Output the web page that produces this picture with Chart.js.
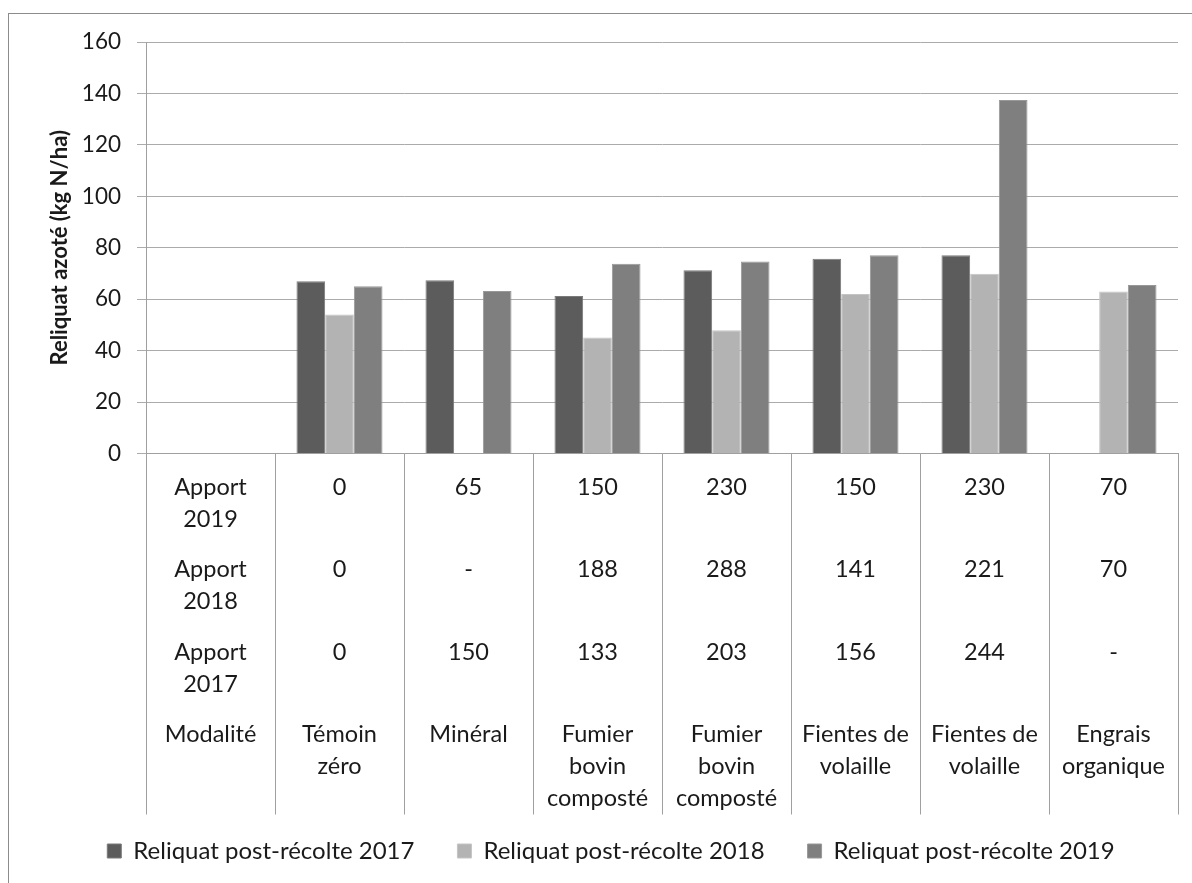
<!DOCTYPE html>
<html>
<head>
<meta charset="utf-8">
<script src="https://cdn.jsdelivr.net/npm/chart.js@4"></script>
<style>
  html, body { margin: 0; padding: 0; background: #fff; }
  #wrap { position: relative; width: 1192px; height: 883px; }
</style>
</head>
<body>
<div id="wrap"><canvas id="reliquats" width="1192" height="883"></canvas></div>
<script>
// ---- data ----
// first column is the row-header column of the table, it has no bars
const modalites = ['Modalité', 'Témoin\nzéro', 'Minéral', 'Fumier\nbovin\ncomposté', 'Fumier\nbovin\ncomposté',
  'Fientes de\nvolaille', 'Fientes de\nvolaille', 'Engrais\norganique'];

const reliquat2017 = [null, 67, 67.4, 61.2, 71.3, 75.7, 77.1, null];
const reliquat2018 = [null, 54, null, 45.1, 47.9, 62, 69.9, 63];
const reliquat2019 = [null, 65, 63.2, 73.8, 74.7, 77.1, 137.4, 65.5];

const seriesNames = ['Reliquat post-récolte 2017', 'Reliquat post-récolte 2018', 'Reliquat post-récolte 2019'];

// nitrogen inputs shown in the table under the axis (kg N/ha)
const rowHeaders = ['Apport\n2019', 'Apport\n2018', 'Apport\n2017'];
const apport2019 = ['0', '65', '150', '230', '150', '230', '70'];
const apport2018 = ['0', '-', '188', '288', '141', '221', '70'];
const apport2017 = ['0', '150', '133', '203', '156', '244', '-'];

const yTicks = [0, 20, 40, 60, 80, 100, 120, 140, 160];

const FONT = 'Lato, "Noto Sans", sans-serif';
const TEXT = '#1a1a1a';

// ---- table under the x axis + outer frame ----
const tablePlugin = {
  id: 'dataTable',
  beforeDraw(chart) {
    const ctx = chart.ctx;
    ctx.save();
    ctx.fillStyle = '#fff';
    ctx.fillRect(0, 0, chart.width, chart.height);
    ctx.strokeStyle = '#8c8c8c';
    ctx.lineWidth = 1;
    ctx.strokeRect(8.5, 13.5, chart.width + 10, chart.height + 10);
    ctx.restore();
  },
  afterDraw(chart) {
    const ctx = chart.ctx;
    const x = chart.scales.x;
    const y0 = chart.scales.y.getPixelForValue(0);
    const rows = [
      [rowHeaders[0]].concat(apport2019),
      [rowHeaders[1]].concat(apport2018),
      [rowHeaders[2]].concat(apport2017),
      modalites
    ];
    const rowTop = [33.5, 116, 198.5, 280.5];
    const lineH = 32;
    ctx.save();
    ctx.font = '23.5px ' + FONT;
    ctx.fillStyle = TEXT;
    ctx.textAlign = 'center';
    ctx.textBaseline = 'middle';
    rows.forEach((row, r) => {
      row.forEach((cell, i) => {
        const cx = x.getPixelForValue(i);
        String(cell).split('\n').forEach((line, k) => {
          ctx.fillText(line, cx, y0 + rowTop[r] + k * lineH);
        });
      });
    });
    ctx.restore();
  }
};

const ctx = document.getElementById('reliquats').getContext('2d');
new Chart(ctx, {
  type: 'bar',
  data: {
    labels: modalites,
    datasets: [
      { label: seriesNames[0], data: reliquat2017, backgroundColor: '#5c5c5c', borderColor: '#7a7a7a', borderWidth: 1 },
      { label: seriesNames[1], data: reliquat2018, backgroundColor: '#b3b3b3', borderColor: '#c4c4c4', borderWidth: 1 },
      { label: seriesNames[2], data: reliquat2019, backgroundColor: '#7f7f7f', borderColor: '#989898', borderWidth: 1 }
    ]
  },
  options: {
    responsive: false,
    animation: false,
    layout: { padding: { left: 44, right: 14, top: 42, bottom: 10 } },
    datasets: { bar: { barPercentage: 1, categoryPercentage: 0.667 } },
    plugins: {
      legend: {
        position: 'bottom',
        labels: {
          boxWidth: 14, boxHeight: 14, padding: 43,
          color: TEXT, font: { family: FONT, size: 24 }
        }
      },
      tooltip: { enabled: false }
    },
    scales: {
      x: {
        offset: true,
        ticks: { display: false },
        grid: {
          offset: true, drawOnChartArea: false, drawTicks: true,
          tickLength: 361, color: '#a0a0a0', lineWidth: 1
        },
        border: { display: true, color: '#a0a0a0' },
        afterFit(s) { s.height = 342.5; }
      },
      y: {
        min: 0, max: 160,
        afterBuildTicks(s) { s.ticks = yTicks.map(v => ({ value: v })); },
        ticks: { color: TEXT, padding: 16, font: { family: FONT, size: 22.5 } },
        grid: { color: '#ababab', lineWidth: 1, tickLength: 9 },
        border: { display: true, color: '#a0a0a0' },
        title: {
          display: true, text: 'Reliquat azoté (kg N/ha)', color: TEXT,
          font: { family: FONT, size: 22, weight: 'bold' },
          padding: { top: 3, bottom: 0 }
        },
        afterFit(s) { s.width = 102; }
      }
    }
  },
  plugins: [tablePlugin]
});
</script>
</body>
</html>
